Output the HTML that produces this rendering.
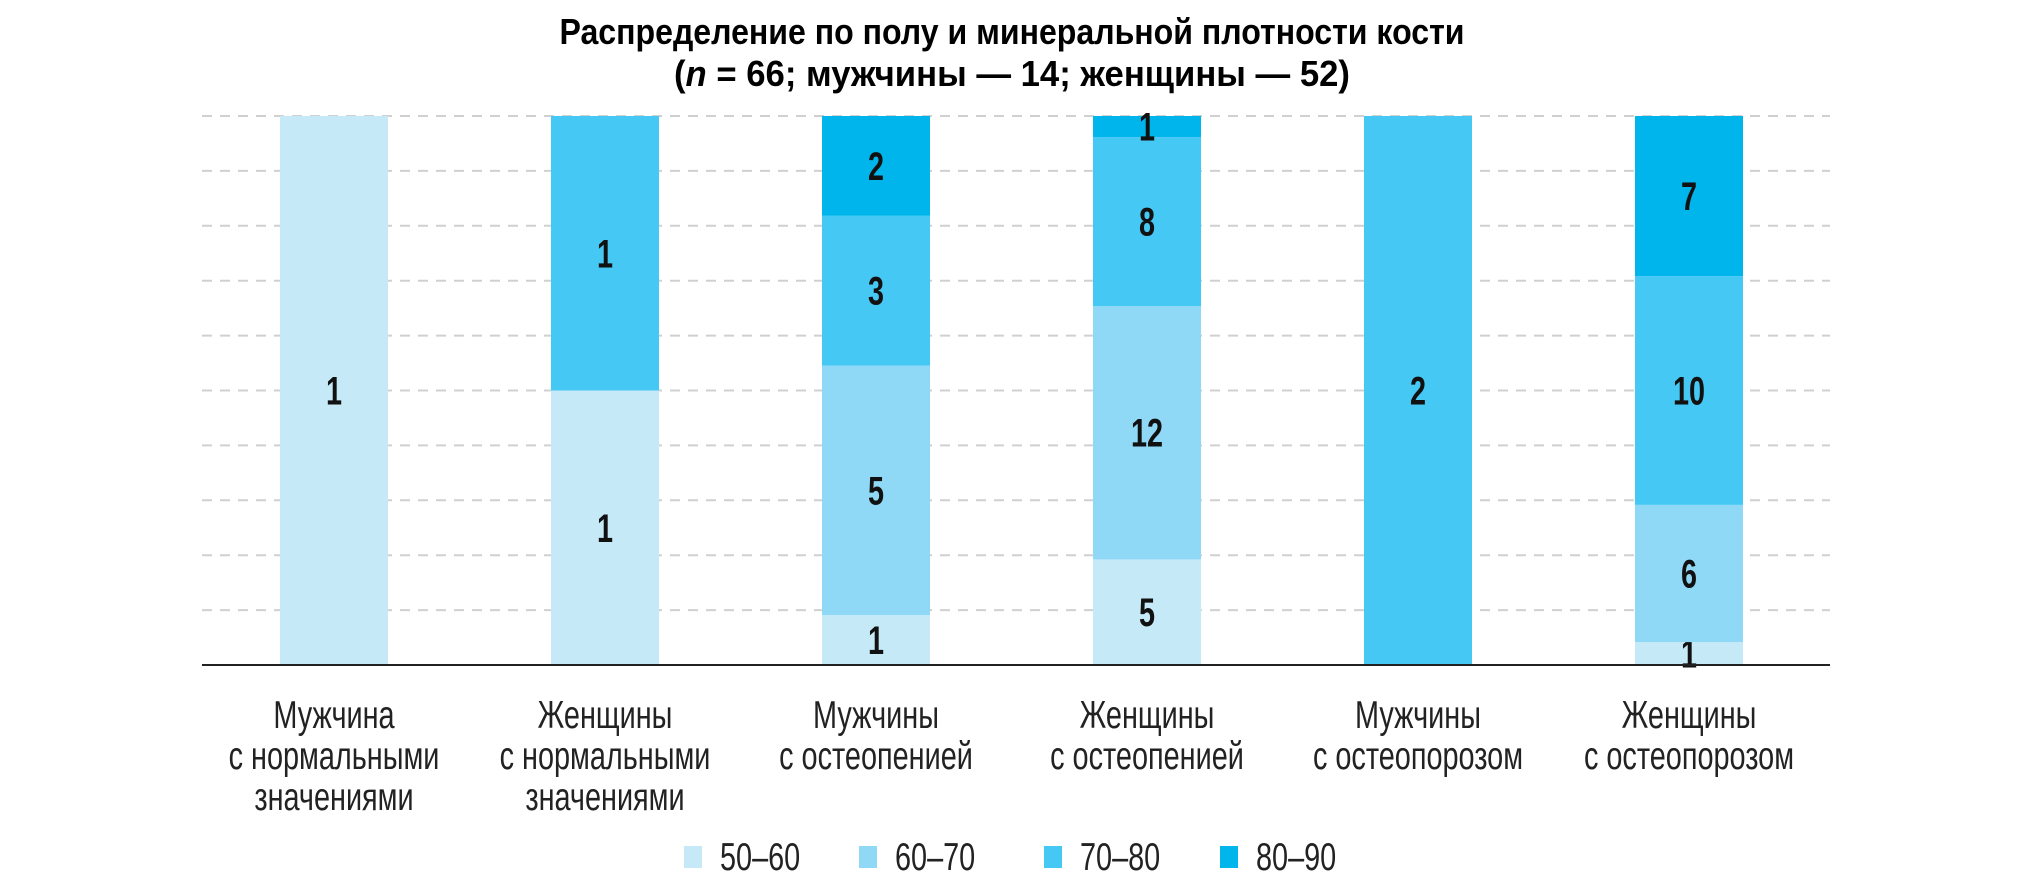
<!DOCTYPE html>
<html><head><meta charset="utf-8"><style>
html,body{margin:0;padding:0;background:#fff;}
svg{display:block;font-family:"Liberation Sans",sans-serif;}
</style></head><body>
<svg id="chart" width="2020" height="880" viewBox="0 0 2020 880" xmlns="http://www.w3.org/2000/svg">
<g>
<text x="1012" y="44" font-size="36" font-weight="bold" text-anchor="middle" textLength="905" lengthAdjust="spacingAndGlyphs">Распределение по полу и минеральной плотности кости</text>
<text x="1012" y="86" font-size="36" font-weight="bold" text-anchor="middle" textLength="676" lengthAdjust="spacingAndGlyphs">(<tspan font-style="italic">n</tspan> = 66; мужчины — 14; женщины — 52)</text>
</g>
<g id="grid"></g>
<g id="bars"></g>
<line x1="202" x2="1830" y1="665" y2="665" stroke="#222" stroke-width="2"/>
<g id="xlabels"></g>
<g id="legend"></g>
</svg>
<script>
const categories = [["Мужчина","с нормальными","значениями"],["Женщины","с нормальными","значениями"],["Мужчины","с остеопенией"],["Женщины","с остеопенией"],["Мужчины","с остеопорозом"],["Женщины","с остеопорозом"]];
const seriesNames = ["50–60","60–70","70–80","80–90"];
const s5060 = [1,1,1,5,0,1];
const s6070 = [0,0,5,12,0,6];
const s7080 = [0,1,3,8,2,10];
const s8090 = [0,0,2,1,0,7];
const series = [s5060,s6070,s7080,s8090];
const colors = ["#c6e9f8","#8fd8f6","#45c8f3","#00b4ec"];
const NS="http://www.w3.org/2000/svg";
const plotL=202, plotR=1830, plotT=116, plotB=665;
const step=271, barW=108, firstC=334;
const xC=i=>firstC+step*i;
const yS=f=>plotB-f*(plotB-plotT);
function mk(tag,attrs,parent){const e=document.createElementNS(NS,tag);for(const k in attrs)e.setAttribute(k,attrs[k]);parent.appendChild(e);return e;}
const grid=document.getElementById('grid');
for(let k=0;k<=10;k++){const y=yS(k/10);
 const l=mk('line',{x1:plotL,x2:plotR,y1:y,y2:y,stroke:'#d0d0d0','stroke-width':2,'stroke-dasharray':'10 8'},grid);
 
 }
const bars=document.getElementById('bars');
categories.forEach((c,i)=>{
 let tot=0;series.forEach(s=>tot+=s[i]);
 let acc=0;
 series.forEach((s,j)=>{const v=s[i];if(!v)return;
  const y0=yS(acc/tot), y1=yS((acc+v)/tot);acc+=v;
  const r=mk('rect',{x:xC(i)-barW/2,y:y1,width:barW,height:y0-y1,fill:colors[j]},bars);
  
  
  const g=mk('g',{transform:`translate(${xC(i)},${(y0+y1)/2+14}) scale(0.72,1)`},bars);
  const t=mk('text',{x:0,y:0,'font-size':40,'font-weight':'bold','text-anchor':'middle',fill:'#111'},g);
  t.textContent=v;
  
  
 });
});
const xl=document.getElementById('xlabels');
categories.forEach((c,i)=>{c.forEach((line,k)=>{
 const g=mk('g',{transform:`translate(${xC(i)},${728+k*41}) scale(0.74,1)`},xl);
 const t=mk('text',{x:0,y:0,'font-size':39,'text-anchor':'middle',fill:'#222'},g);
 t.textContent=line;
 
 
});});
const lg=document.getElementById('legend');
const lx=[684,859,1044,1220];
seriesNames.forEach((n,j)=>{
 const r=mk('rect',{x:lx[j],y:846,width:18,height:22,fill:colors[j]},lg);
 
 
 const g=mk('g',{transform:`translate(${lx[j]+36},870) scale(0.74,1)`},lg);
 const t=mk('text',{x:0,y:0,'font-size':39,fill:'#222'},g);
 t.textContent=n;
 
 
});
</script>
</body></html>
